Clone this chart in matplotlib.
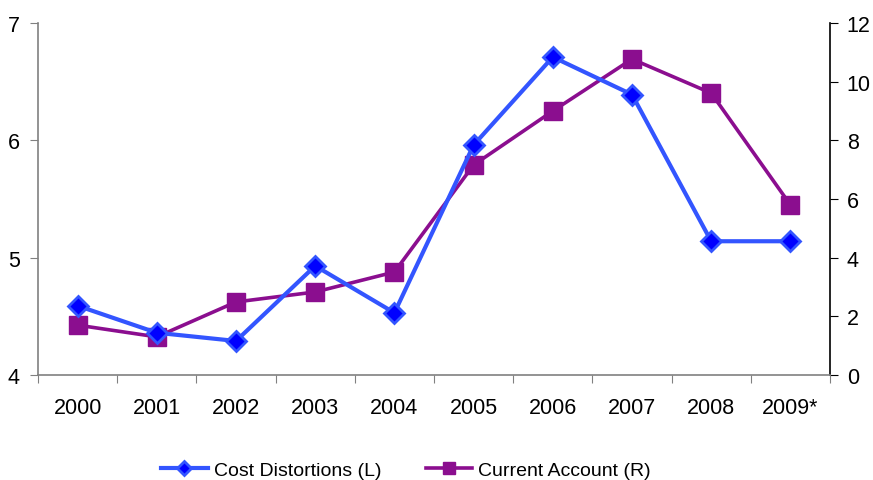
import matplotlib
matplotlib.use("Agg")
import matplotlib.pyplot as plt
import numpy as np

years = ["2000", "2001", "2002", "2003", "2004", "2005", "2006", "2007", "2008", "2009*"]
cost_distortions = [4.59, 4.36, 4.29, 4.93, 4.53, 5.96, 6.71, 6.39, 5.14, 5.14]
current_account = [1.70, 1.30, 2.49, 2.83, 3.51, 7.16, 9.00, 10.77, 9.61, 5.80]

plt.rcParams['font.family'] = ['Liberation Sans', 'DejaVu Sans']

fig = plt.figure(figsize=(8.73, 4.81), dpi=100)
ax = fig.add_axes([38/873, 1-376/481, (830-38)/873, (376-24)/481])
ax2 = ax.twinx()

x = np.arange(len(years))
blue_line = '#3355FF'
purple = '#8B0E8F'

l1, = ax.plot(x, cost_distortions, color=blue_line, lw=3, marker='D', ms=10,
              markerfacecolor='#0000FF', markeredgecolor=blue_line, markeredgewidth=2,
              label='Cost Distortions (L)', zorder=3)
l2, = ax2.plot(x, current_account, color=purple, lw=2.6, marker='s', ms=12.5,
               markerfacecolor=purple, markeredgecolor=purple,
               label='Current Account (R)', zorder=3)

ax.set_xlim(-0.5, len(years) - 0.5)
ax.set_ylim(4, 7)
ax.set_yticks([4, 5, 6, 7])
ax2.set_ylim(0, 12)
ax2.set_yticks(range(0, 13, 2))

ax.set_xticks(np.arange(-0.5, len(years), 1.0))
ax.set_xticklabels([])
ax.set_xticks(x, minor=True)
ax.set_xticklabels(years, minor=True)
ax.tick_params(axis='x', which='minor', length=0, pad=16, labelsize=15.5)
ax.tick_params(axis='x', which='major', length=6, direction='out', color='#808080')
ax.tick_params(axis='y', length=6, direction='out', color='#808080', labelsize=15.5, pad=7)
ax2.tick_params(axis='y', length=6, direction='out', color='black', labelsize=15.5, pad=6)

for a in (ax, ax2):
    a.spines['top'].set_visible(False)
ax.spines['right'].set_visible(False)
ax2.spines['left'].set_visible(False)
ax2.spines['bottom'].set_visible(False)
ax.spines['left'].set_color('#808080')
ax.spines['bottom'].set_color('#808080')
ax2.spines['right'].set_color('black')
ax.spines['left'].set_linewidth(1.2)
ax.spines['bottom'].set_linewidth(1.2)
ax2.spines['right'].set_linewidth(1.2)

ax2.set_zorder(ax.get_zorder() - 1)
ax.patch.set_visible(False)

leg = fig.legend([l1, l2], ['Cost Distortions (L)', 'Current Account (R)'],
                 loc='center', bbox_to_anchor=(406/873, 1-471/481), ncol=2, frameon=False,
                 fontsize=14, handlelength=2.4, columnspacing=2.3, handletextpad=0.3,
                 markerscale=0.7)

fig.savefig('out.png', dpi=100)
